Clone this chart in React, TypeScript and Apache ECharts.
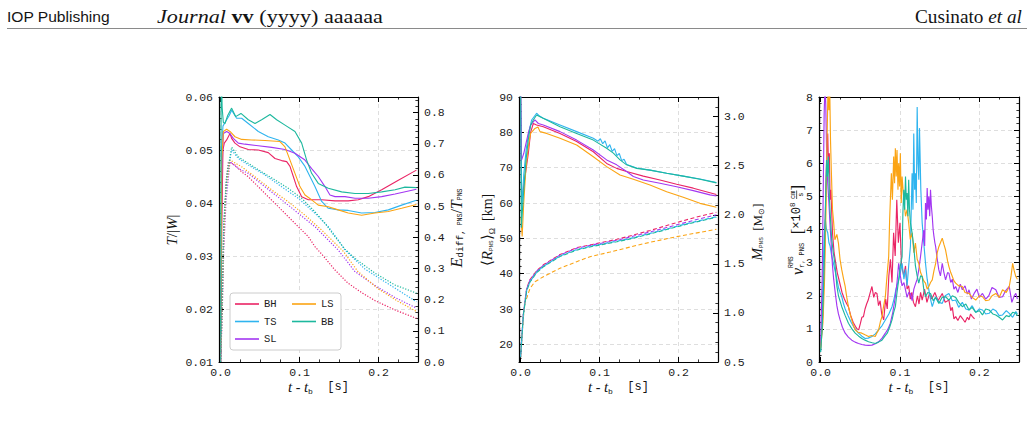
import React, { useEffect, useRef } from 'react';
import * as echarts from 'echarts';

const SERIF = 'Liberation Serif';
const MONO = 'Liberation Mono';
const SANS = 'Liberation Sans';
const INK = '#141414';

const SERIES_NAMES = ['BH', 'TS', 'SL', 'LS', 'BB'];
const SERIES_COLORS: Record<string, string> = { BH: '#ea2465', TS: '#2fb4ef', SL: '#a336f2', LS: '#fba414', BB: '#1db89e' };

// ---------- axes ----------
const X_RANGE = [-0.002, 0.25];
const X_TICKS = [0, 0.1, 0.2];
const X_MINOR = 0.025;

const P1_LEFT_RANGE = [0.01, 0.06];
const P1_LEFT_TICKS = [0.01, 0.02, 0.03, 0.04, 0.05, 0.06];
const P1_RIGHT_RANGE = [0, 0.85];
const P1_RIGHT_TICKS = [0, 0.1, 0.2, 0.3, 0.4, 0.5, 0.6, 0.7, 0.8];
const P2_LEFT_RANGE = [15, 90];
const P2_LEFT_TICKS = [20, 30, 40, 50, 60, 70, 80, 90];
const P2_RIGHT_RANGE = [0.5, 3.2];
const P2_RIGHT_TICKS = [0.5, 1.0, 1.5, 2.0, 2.5, 3.0];
const P3_RANGE = [0, 8];
const P3_TICKS = [0, 1, 2, 3, 4, 5, 6, 7, 8];

// ---------- panel 1: T/|W| (solid, left axis) ----------
const P1_BH = [[0, 0.010], [0.0015, 0.035], [0.003, 0.050], [0.0047, 0.0513], [0.0077, 0.0519], [0.0119, 0.0531], [0.014, 0.0522], [0.0182, 0.0513], [0.0246, 0.0506], [0.0351, 0.0501], [0.0478, 0.05], [0.0604, 0.0495], [0.0689, 0.0484], [0.0773, 0.048], [0.0837, 0.0478], [0.0879, 0.0469], [0.0921, 0.045], [0.0963, 0.0431], [0.1027, 0.0412], [0.1111, 0.0406], [0.128, 0.0406], [0.1449, 0.0404], [0.1617, 0.0404], [0.1744, 0.0406], [0.187, 0.0412], [0.204, 0.0425], [0.2251, 0.0443], [0.248, 0.0462]];
const P1_TS = [[0, 0.010], [0.0012, 0.050], [0.003, 0.0545], [0.0077, 0.0557], [0.011, 0.0565], [0.014, 0.0575], [0.0203, 0.056], [0.0267, 0.056], [0.0351, 0.055], [0.0478, 0.0535], [0.0604, 0.0525], [0.0731, 0.0519], [0.0816, 0.0513], [0.09, 0.05], [0.0984, 0.0487], [0.1069, 0.0469], [0.1132, 0.045], [0.1195, 0.0431], [0.128, 0.0403], [0.1364, 0.039], [0.149, 0.0387], [0.1617, 0.0386], [0.1786, 0.0381], [0.1955, 0.0382], [0.2124, 0.0387], [0.2293, 0.0396], [0.248, 0.0405]];
const P1_SL = [[0, 0.010], [0.0015, 0.045], [0.0035, 0.0531], [0.0077, 0.0535], [0.0119, 0.0531], [0.0161, 0.0522], [0.0225, 0.0513], [0.0309, 0.0511], [0.0478, 0.0508], [0.0647, 0.0505], [0.0816, 0.0501], [0.0942, 0.0494], [0.1069, 0.0481], [0.1153, 0.0465], [0.1237, 0.045], [0.1322, 0.0431], [0.1385, 0.0415], [0.1449, 0.0412], [0.1575, 0.0412], [0.1702, 0.0409], [0.187, 0.0409], [0.204, 0.0412], [0.221, 0.0417], [0.248, 0.0426]];
const P1_LS = [[0, 0.010], [0.0015, 0.048], [0.0035, 0.0535], [0.0077, 0.0539], [0.0119, 0.0535], [0.0182, 0.0525], [0.0267, 0.052], [0.0393, 0.0519], [0.0562, 0.0518], [0.0752, 0.0516], [0.0816, 0.0506], [0.0879, 0.0481], [0.0942, 0.0456], [0.1005, 0.0431], [0.1069, 0.0415], [0.1153, 0.0406], [0.1237, 0.0396], [0.1364, 0.0393], [0.149, 0.0387], [0.1617, 0.0381], [0.1786, 0.0377], [0.1955, 0.0381], [0.2124, 0.0384], [0.2293, 0.039], [0.248, 0.0397]];
const P1_BB = [[0, 0.010], [0.0008, 0.066], [0.002, 0.058], [0.0035, 0.0552], [0.0056, 0.055], [0.009, 0.0565], [0.014, 0.0579], [0.0191, 0.0563], [0.0258, 0.0569], [0.0351, 0.0557], [0.0436, 0.055], [0.052, 0.0557], [0.0626, 0.0567], [0.071, 0.0557], [0.0816, 0.0547], [0.0942, 0.0535], [0.1027, 0.0513], [0.109, 0.0481], [0.1153, 0.0456], [0.1237, 0.0437], [0.1364, 0.0428], [0.1533, 0.0421], [0.1702, 0.0418], [0.187, 0.0418], [0.204, 0.0421], [0.221, 0.0425], [0.2335, 0.043], [0.248, 0.0429]];

// ---------- panel 1: E_diff/T (dotted, right axis) ----------
const P1_BH_E = [[0, 0], [0.002, 0.2], [0.004, 0.42], [0.007, 0.58], [0.0098, 0.642], [0.0182, 0.632], [0.0267, 0.61], [0.0351, 0.594], [0.0478, 0.562], [0.0604, 0.53], [0.0731, 0.498], [0.0857, 0.466], [0.0984, 0.434], [0.1111, 0.402], [0.1195, 0.37], [0.1284, 0.345], [0.1449, 0.295], [0.1613, 0.253], [0.179, 0.222], [0.1955, 0.197], [0.2208, 0.167], [0.248, 0.14]];
const P1_TS_E = [[0, 0], [0.002, 0.17], [0.004, 0.42], [0.007, 0.57], [0.014, 0.68], [0.0224, 0.653], [0.0351, 0.632], [0.0562, 0.6], [0.0774, 0.562], [0.0984, 0.525], [0.1195, 0.477], [0.1364, 0.434], [0.149, 0.391], [0.1575, 0.359], [0.1829, 0.298], [0.2044, 0.263], [0.2246, 0.231], [0.248, 0.193]];
const P1_SL_E = [[0, 0], [0.002, 0.14], [0.004, 0.36], [0.007, 0.52], [0.0119, 0.642], [0.0224, 0.621], [0.0351, 0.605], [0.0562, 0.562], [0.0774, 0.52], [0.0984, 0.477], [0.1195, 0.434], [0.1364, 0.391], [0.149, 0.359], [0.1702, 0.29], [0.1955, 0.245], [0.2208, 0.207], [0.248, 0.173]];
const P1_LS_E = [[0, 0], [0.002, 0.16], [0.004, 0.4], [0.007, 0.56], [0.0119, 0.648], [0.0267, 0.626], [0.0436, 0.594], [0.0647, 0.552], [0.0857, 0.514], [0.1069, 0.471], [0.128, 0.423], [0.1449, 0.381], [0.1554, 0.355], [0.174, 0.29], [0.1993, 0.235], [0.2246, 0.195], [0.248, 0.162]];
const P1_BB_E = [[0, 0], [0.002, 0.2], [0.004, 0.45], [0.008, 0.6], [0.014, 0.689], [0.0224, 0.658], [0.0351, 0.637], [0.052, 0.61], [0.0689, 0.584], [0.0857, 0.557], [0.1027, 0.525], [0.1195, 0.482], [0.1322, 0.445], [0.1449, 0.402], [0.1575, 0.362], [0.1702, 0.332], [0.1955, 0.285], [0.2208, 0.247], [0.248, 0.221]];

// ---------- panel 2: <R_PNS> (solid, left axis) ----------
const P2_BH_R = [[0, 93], [0.0012, 62], [0.003, 63], [0.006, 68], [0.0098, 74], [0.0127, 80], [0.0161, 82.5], [0.0203, 82.1], [0.0288, 81.6], [0.0499, 79.7], [0.071, 77.4], [0.0921, 74.5], [0.109, 71.2], [0.1217, 69.8], [0.1343, 68.9], [0.1554, 67.6], [0.1765, 66.5], [0.1976, 65.3], [0.2187, 64.2], [0.2398, 62.9], [0.248, 62.4]];
const P2_TS_R = [[0, 93], [0.0015, 58], [0.004, 68], [0.007, 75], [0.01, 79.5], [0.014, 83.5], [0.0203, 85.4], [0.024, 84.6], [0.0288, 84], [0.0499, 82.1], [0.071, 80.2], [0.0921, 78.3], [0.098, 77.5], [0.101, 78.2], [0.104, 76.8], [0.107, 77.6], [0.11, 75.6], [0.113, 76.5], [0.116, 74.6], [0.119, 75.4], [0.122, 73.4], [0.125, 74], [0.128, 72], [0.131, 72.4], [0.1343, 70.9], [0.147, 69.9], [0.1639, 69.3], [0.185, 68.4], [0.206, 67.6], [0.2272, 66.8], [0.248, 65.8]];
const P2_SL_R = [[0, 93], [0.001, 72], [0.004, 74], [0.007, 77], [0.01, 80], [0.0127, 82], [0.0182, 83.5], [0.0225, 82.5], [0.0288, 82.1], [0.0499, 80.2], [0.071, 77.8], [0.0921, 75], [0.109, 72.2], [0.1217, 70.8], [0.1343, 68.9], [0.1428, 67.5], [0.1554, 66.5], [0.1765, 65.6], [0.1976, 64.6], [0.2187, 63.5], [0.2398, 62.3], [0.248, 62]];
const P2_LS_R = [[0.0005, 56], [0.002, 50.5], [0.004, 60], [0.0068, 70], [0.0098, 76], [0.0127, 79.7], [0.0182, 81.1], [0.022, 81.5], [0.0246, 80.2], [0.033, 79.7], [0.0499, 78.3], [0.071, 76.4], [0.0921, 73.1], [0.109, 70.3], [0.1259, 67.9], [0.1428, 66.7], [0.1639, 65.1], [0.185, 63.2], [0.206, 61.6], [0.2272, 59.9], [0.248, 58.8]];
const P2_BB_R = [[0, 93], [0.001, 53], [0.0035, 62], [0.0068, 72], [0.0098, 78], [0.0127, 82], [0.0161, 83.5], [0.0203, 84.9], [0.0246, 84.4], [0.033, 83.5], [0.0499, 81.6], [0.071, 79.7], [0.0921, 77.8], [0.109, 75.5], [0.1175, 74.1], [0.1259, 72.2], [0.1343, 70.8], [0.147, 69.8], [0.1639, 69.3], [0.185, 68.4], [0.206, 67.6], [0.2272, 66.7], [0.248, 65.7]];

// ---------- panel 2: M_PNS (dashed, right axis) ----------
const P2_BH_M = [[0, 0.55], [0.0035, 1.0], [0.0077, 1.25], [0.0119, 1.34], [0.0203, 1.43], [0.0288, 1.49], [0.0499, 1.595], [0.071, 1.665], [0.0921, 1.7], [0.1217, 1.75], [0.1343, 1.775], [0.164, 1.84], [0.185, 1.89], [0.206, 1.94], [0.227, 1.985], [0.248, 2.025]];
const P2_TS_M = [[0, 0.55], [0.0035, 0.98], [0.0077, 1.23], [0.0119, 1.32], [0.0203, 1.415], [0.0288, 1.475], [0.0499, 1.58], [0.071, 1.645], [0.0921, 1.685], [0.1217, 1.73], [0.1343, 1.75], [0.164, 1.81], [0.185, 1.855], [0.206, 1.9], [0.227, 1.94], [0.248, 1.98]];
const P2_SL_M = [[0, 0.55], [0.0035, 0.99], [0.0077, 1.245], [0.0119, 1.335], [0.0203, 1.425], [0.0288, 1.485], [0.0499, 1.59], [0.071, 1.66], [0.0921, 1.695], [0.1217, 1.74], [0.1343, 1.765], [0.164, 1.825], [0.185, 1.87], [0.206, 1.915], [0.227, 1.96], [0.248, 2.0]];
const P2_LS_M = [[0, 0.55], [0.0035, 0.95], [0.0056, 1.1], [0.0119, 1.25], [0.0182, 1.318], [0.0288, 1.369], [0.0499, 1.455], [0.071, 1.522], [0.0879, 1.573], [0.1132, 1.62], [0.1554, 1.705], [0.1976, 1.777], [0.248, 1.852]];
const P2_BB_M = [[0, 0.55], [0.0035, 0.975], [0.0077, 1.225], [0.0119, 1.315], [0.0203, 1.41], [0.0288, 1.47], [0.0499, 1.575], [0.071, 1.64], [0.0921, 1.68], [0.1217, 1.725], [0.1343, 1.745], [0.164, 1.805], [0.185, 1.85], [0.206, 1.895], [0.227, 1.935], [0.248, 1.975]];

// ---------- panel 3: v_r RMS ----------
const P3_BH = [[0, 0.4], [0.003, 1.5], [0.005, 3.2], [0.007, 5.6], [0.008, 6.4], [0.009, 6.9], [0.01, 5.8], [0.011, 6.3], [0.012, 4.9], [0.013, 5.2], [0.015, 3.9], [0.017, 3.3], [0.019, 3.0], [0.021, 2.7], [0.024, 2.4], [0.027, 2.1], [0.03, 1.9], [0.033, 1.75], [0.035, 1.67], [0.038, 1.4], [0.041, 1.2], [0.044, 1.07], [0.046, 1.0], [0.048, 0.97], [0.05, 1.15], [0.052, 1.35], [0.054, 1.37], [0.056, 1.6], [0.058, 1.75], [0.06, 1.87], [0.062, 2.05], [0.0647, 2.28], [0.067, 1.95], [0.069, 2.1], [0.071, 2.07], [0.073, 1.7], [0.075, 1.85], [0.077, 1.45], [0.0795, 1.27], [0.082, 1.9], [0.084, 1.6], [0.086, 2.6], [0.088, 3.1], [0.09, 2.4], [0.092, 3.9], [0.094, 3.2], [0.096, 4.9], [0.098, 3.6], [0.1, 4.2], [0.102, 2.9], [0.1048, 2.6], [0.107, 2.9], [0.109, 2.2], [0.111, 2.3], [0.113, 1.9], [0.115, 2.1], [0.117, 1.8], [0.1195, 1.67], [0.122, 2.0], [0.124, 1.75], [0.126, 2.1], [0.128, 1.87], [0.131, 2.2], [0.134, 1.8], [0.137, 2.05], [0.14, 1.9], [0.144, 2.1], [0.148, 1.85], [0.1533, 2.07], [0.157, 1.8], [0.1617, 1.87], [0.164, 1.55], [0.166, 1.65], [0.168, 1.3], [0.1702, 1.37], [0.173, 1.25], [0.176, 1.4], [0.1786, 1.32], [0.182, 1.2], [0.185, 1.35], [0.187, 1.27], [0.189, 1.45], [0.1913, 1.37], [0.194, 1.3]];
const P3_TS = [[0, 0.3], [0.002, 1.2], [0.003, 2.5], [0.0045, 3.8], [0.006, 4.3], [0.0075, 4.0], [0.009, 3.9], [0.0105, 3.6], [0.012, 3.5], [0.014, 3.2], [0.016, 3.0], [0.018, 2.78], [0.0205, 2.5], [0.0225, 2.25], [0.0246, 2.1], [0.0267, 1.97], [0.029, 1.75], [0.031, 1.6], [0.0351, 1.37], [0.0385, 1.2], [0.0415, 1.07], [0.0445, 0.97], [0.0478, 0.87], [0.052, 0.78], [0.0562, 0.71], [0.06, 0.72], [0.0647, 0.77], [0.069, 0.85], [0.0731, 0.97], [0.0775, 1.1], [0.0816, 1.27], [0.086, 1.45], [0.09, 1.67], [0.0925, 1.9], [0.095, 2.2], [0.0984, 2.48], [0.1005, 2.7], [0.1027, 2.98], [0.105, 2.5], [0.107, 2.8], [0.109, 2.3], [0.111, 2.9], [0.1132, 3.5], [0.1153, 5.7], [0.1164, 4.6], [0.1174, 6.9], [0.1185, 5.2], [0.1195, 5.7], [0.1206, 4.8], [0.1217, 7.7], [0.1228, 6.0], [0.1238, 5.5], [0.1246, 7.06], [0.1255, 6.1], [0.1263, 5.2], [0.128, 4.2], [0.13, 3.6], [0.1322, 2.98], [0.1343, 2.5], [0.1364, 2.18], [0.1385, 1.9], [0.1407, 1.67], [0.143, 1.85], [0.145, 1.97], [0.149, 1.8], [0.1533, 1.77], [0.157, 2.0], [0.1617, 2.07], [0.166, 1.85], [0.1702, 1.87], [0.174, 1.65], [0.1786, 1.8], [0.183, 1.6], [0.187, 1.57], [0.191, 1.7], [0.1955, 1.5], [0.2, 1.6], [0.204, 1.57], [0.208, 1.45], [0.2124, 1.47], [0.217, 1.6], [0.2208, 1.55], [0.225, 1.4], [0.2293, 1.42], [0.234, 1.55], [0.2377, 1.47], [0.242, 1.35], [0.246, 1.52], [0.248, 1.45]];
const P3_SL = [[0, 0.5], [0.002, 2.5], [0.0035, 5.5], [0.0045, 7.5], [0.0056, 8.4], [0.0065, 7.8], [0.0077, 6.2], [0.009, 5.4], [0.0105, 4.8], [0.012, 4.1], [0.0135, 3.5], [0.015, 2.9], [0.0165, 2.5], [0.018, 2.18], [0.0205, 1.7], [0.0225, 1.45], [0.0246, 1.27], [0.0275, 1.05], [0.031, 0.87], [0.035, 0.75], [0.0393, 0.66], [0.0435, 0.6], [0.0478, 0.56], [0.052, 0.53], [0.0562, 0.51], [0.0605, 0.5], [0.0647, 0.51], [0.069, 0.55], [0.0731, 0.61], [0.0775, 0.72], [0.0816, 0.87], [0.085, 1.0], [0.0879, 1.17], [0.091, 1.5], [0.0942, 1.97], [0.0963, 2.4], [0.0984, 2.98], [0.1005, 2.6], [0.1027, 2.3], [0.105, 2.4], [0.107, 2.18], [0.109, 1.95], [0.1111, 2.1], [0.1132, 2.07], [0.1153, 1.85], [0.1175, 2.2], [0.1195, 2.35], [0.1217, 2.5], [0.1237, 2.78], [0.126, 3.2], [0.128, 3.6], [0.13, 3.98], [0.1311, 3.5], [0.1322, 4.8], [0.1333, 4.3], [0.1343, 5.25], [0.1353, 4.6], [0.1364, 5.0], [0.1375, 4.4], [0.1385, 5.2], [0.1396, 4.7], [0.1407, 4.4], [0.1418, 4.0], [0.1428, 3.8], [0.144, 3.6], [0.145, 3.48], [0.147, 3.1], [0.149, 2.78], [0.151, 2.6], [0.1533, 2.98], [0.1554, 2.7], [0.1575, 2.48], [0.16, 2.7], [0.1617, 2.68], [0.164, 2.4], [0.166, 2.5], [0.168, 2.2], [0.1702, 2.28], [0.173, 2.1], [0.176, 2.35], [0.1786, 2.18], [0.182, 2.3], [0.185, 2.05], [0.187, 2.18], [0.19, 1.9], [0.1935, 2.07], [0.197, 2.2], [0.2, 1.95], [0.204, 2.07], [0.208, 1.9], [0.212, 2.0], [0.216, 2.25], [0.2208, 2.18], [0.225, 1.95], [0.2293, 1.97], [0.233, 2.15], [0.2377, 2.28], [0.241, 1.8], [0.244, 2.0], [0.246, 2.07], [0.248, 1.9]];
const P3_LS = [[0, 0.4], [0.003, 1.2], [0.005, 2.5], [0.007, 4.8], [0.008, 6.5], [0.0095, 8.5], [0.0105, 7.6], [0.0115, 8.3], [0.0125, 6.7], [0.0135, 5.8], [0.015, 4.6], [0.0165, 4.2], [0.018, 3.69], [0.0205, 3.85], [0.0225, 3.59], [0.0245, 3.1], [0.0267, 2.78], [0.029, 2.5], [0.031, 2.28], [0.033, 1.95], [0.0351, 1.67], [0.0372, 1.45], [0.0393, 1.27], [0.0415, 1.1], [0.0436, 0.97], [0.047, 0.9], [0.052, 0.87], [0.056, 0.82], [0.0604, 0.77], [0.064, 0.8], [0.0689, 0.77], [0.071, 0.88], [0.0731, 0.97], [0.0752, 1.2], [0.0773, 1.37], [0.0795, 1.7], [0.0816, 1.97], [0.0837, 2.6], [0.0858, 3.18], [0.087, 4.3], [0.0892, 5.7], [0.0905, 4.9], [0.0921, 6.2], [0.0932, 5.4], [0.0942, 6.45], [0.0953, 5.6], [0.0963, 6.4], [0.0975, 5.2], [0.0984, 6.0], [0.0995, 5.3], [0.1005, 6.3], [0.1016, 4.8], [0.1027, 5.6], [0.1048, 4.9], [0.107, 4.4], [0.109, 4.6], [0.111, 4.2], [0.113, 3.7], [0.1153, 3.9], [0.1175, 3.3], [0.1195, 3.59], [0.1217, 3.1], [0.1237, 2.98], [0.126, 2.7], [0.128, 2.58], [0.13, 2.45], [0.1322, 2.38], [0.1343, 2.2], [0.1364, 2.28], [0.1385, 2.4], [0.1407, 2.48], [0.1428, 2.75], [0.145, 2.98], [0.147, 3.3], [0.149, 3.48], [0.151, 3.6], [0.1533, 3.74], [0.1554, 3.55], [0.1575, 3.38], [0.16, 3.05], [0.1617, 2.88], [0.164, 2.7], [0.166, 2.58], [0.168, 2.45], [0.1702, 2.38], [0.174, 2.3], [0.1786, 2.28], [0.182, 2.1], [0.187, 2.07], [0.191, 1.95], [0.1955, 1.87], [0.2, 2.0], [0.204, 1.97], [0.208, 1.85], [0.2124, 1.87], [0.216, 2.0], [0.2208, 2.07], [0.225, 1.95], [0.2293, 2.18], [0.234, 2.1], [0.2377, 2.28], [0.24, 2.6], [0.242, 2.98], [0.244, 2.75], [0.246, 2.58], [0.248, 2.5]];
const P3_BB = [[0, 0.3], [0.002, 1.0], [0.004, 2.5], [0.006, 4.6], [0.0075, 6.1], [0.0085, 5.6], [0.0098, 6.2], [0.011, 5.0], [0.0125, 4.3], [0.014, 3.7], [0.016, 3.3], [0.018, 2.98], [0.0205, 2.3], [0.0225, 2.0], [0.0267, 1.67], [0.031, 1.4], [0.0351, 1.17], [0.0395, 1.0], [0.0436, 0.87], [0.048, 0.78], [0.052, 0.71], [0.056, 0.66], [0.0604, 0.61], [0.065, 0.58], [0.0689, 0.56], [0.073, 0.6], [0.0773, 0.66], [0.081, 0.78], [0.084, 0.87], [0.087, 1.05], [0.09, 1.27], [0.0921, 1.5], [0.0942, 1.67], [0.0963, 2.1], [0.0984, 2.48], [0.1005, 2.9], [0.1027, 3.18], [0.1037, 4.5], [0.1048, 5.2], [0.1059, 4.6], [0.107, 5.6], [0.108, 4.9], [0.109, 5.1], [0.11, 4.4], [0.111, 5.5], [0.112, 4.6], [0.1132, 4.2], [0.1153, 3.9], [0.1174, 3.48], [0.1195, 2.9], [0.1217, 2.6], [0.1237, 2.38], [0.126, 2.6], [0.128, 2.58], [0.13, 2.2], [0.1322, 1.97], [0.135, 2.1], [0.1385, 2.07], [0.142, 1.85], [0.145, 1.95], [0.149, 1.77], [0.153, 1.95], [0.1575, 1.97], [0.1617, 1.87], [0.166, 2.0], [0.1702, 1.95], [0.174, 1.8], [0.1786, 1.67], [0.183, 1.75], [0.187, 1.57], [0.191, 1.65], [0.1955, 1.5], [0.2, 1.55], [0.204, 1.42], [0.208, 1.6], [0.2124, 1.57], [0.217, 1.45], [0.2208, 1.42], [0.225, 1.35], [0.2293, 1.27], [0.234, 1.4], [0.2377, 1.37], [0.242, 1.5], [0.246, 1.47], [0.248, 1.4]];

// ---------- layout ----------
const GRIDS = [
  { left: 219, top: 97, width: 199, height: 265 },
  { left: 519, top: 97, width: 199, height: 265 },
  { left: 819, top: 97, width: 200, height: 265 },
];

const LABEL = { color: '#1c1c1c', fontFamily: MONO, fontSize: 11.5 };
const GRIDLINE = { color: '#d6d6d6', width: 0.8, type: [4, 3] };
const SPINE = { color: '#000', width: 1.2 };

function stepsIn(range: number[], step: number) {
  const out: number[] = [];
  const k0 = Math.ceil(range[0] / step - 1e-9);
  const k1 = Math.floor(range[1] / step + 1e-9);
  for (let k = k0; k <= k1; k++) out.push(+(k * step).toFixed(6));
  return out;
}

function axisPair(dim: 'x' | 'y', g: number, position: string, range: number[], labels: number[] | null, ticks: number[], minorStep: number, fmt: (v: number) => string, split: boolean) {
  const base: any = { type: 'value', gridIndex: g, position, min: range[0], max: range[1], axisPointer: { show: false }, minorTick: { show: false }, minorSplitLine: { show: false } };
  const major = {
    ...base,
    axisLine: { show: true, onZero: false, lineStyle: SPINE },
    axisTick: { show: true, inside: true, length: 5, lineStyle: { color: '#000', width: 1 }, customValues: ticks },
    axisLabel: labels
      ? { show: true, customValues: labels, formatter: (v: number) => fmt(v), margin: dim === 'x' ? 4 : 6, showMinLabel: true, showMaxLabel: true, ...LABEL }
      : { show: false },
    splitLine: { show: split, lineStyle: GRIDLINE },
  };
  const minor = {
    ...base,
    axisLine: { show: false, onZero: false },
    axisTick: { show: true, inside: true, length: 2.6, lineStyle: { color: '#000', width: 0.8 }, customValues: stepsIn(range, minorStep) },
    axisLabel: { show: false },
    splitLine: { show: false },
  };
  return [major, minor];
}

const f1 = (v: number) => v.toFixed(1);
const f2 = (v: number) => v.toFixed(2);
const f0 = (v: number) => String(Math.round(v));

function buildXAxes() {
  const out: any[] = [];
  for (let g = 0; g < 3; g++) {
    out.push(...axisPair('x', g, 'bottom', X_RANGE, X_TICKS, X_TICKS, X_MINOR, f1, true));
    out.push(...axisPair('x', g, 'top', X_RANGE, null, X_TICKS, X_MINOR, f1, false));
  }
  return out;
}

function inner(ticks: number[], range: number[]) {
  return ticks.filter((t) => t > range[0] + 1e-9 && t < range[1] - 1e-9);
}

function buildYAxes() {
  return [
    ...axisPair('y', 0, 'left', P1_LEFT_RANGE, P1_LEFT_TICKS, inner(P1_LEFT_TICKS, P1_LEFT_RANGE), 0.002, f2, true),
    ...axisPair('y', 0, 'right', P1_RIGHT_RANGE, P1_RIGHT_TICKS, inner(P1_RIGHT_TICKS, P1_RIGHT_RANGE), 0.02, f1, false),
    ...axisPair('y', 1, 'left', P2_LEFT_RANGE, P2_LEFT_TICKS, inner(P2_LEFT_TICKS, P2_LEFT_RANGE), 2, f0, true),
    ...axisPair('y', 1, 'right', P2_RIGHT_RANGE, P2_RIGHT_TICKS, inner(P2_RIGHT_TICKS, P2_RIGHT_RANGE), 0.1, f1, false),
    ...axisPair('y', 2, 'left', P3_RANGE, P3_TICKS, inner(P3_TICKS, P3_RANGE), 0.2, f0, true),
    ...axisPair('y', 2, 'right', P3_RANGE, null, inner(P3_TICKS, P3_RANGE), 0.2, f0, false),
  ];
}

function line(name: string, data: number[][], g: number, right: boolean, type: any, width: number, dashOffset = 0) {
  return {
    type: 'line', name, data,
    xAxisIndex: g * 4, yAxisIndex: g * 4 + (right ? 2 : 0),
    showSymbol: false, symbol: 'none', clip: true, silent: true,
    lineStyle: { color: SERIES_COLORS[name], width, type, dashOffset },
    itemStyle: { color: SERIES_COLORS[name] },
    emphasis: { disabled: true },
  };
}

// ---------- text layout helpers ----------
type Run = { t: string; f: string; s: number; it?: boolean; bd?: boolean; dy?: number; over?: Run; bar?: boolean; center?: boolean };
let measureCtx: any = null;
function fontOf(r: Run) { return `${r.it ? 'italic ' : ''}${r.bd ? 'bold ' : ''}${r.s}px "${r.f}"`; }
function textWidth(r: Run) {
  if (!measureCtx) measureCtx = document.createElement('canvas').getContext('2d');
  measureCtx.font = fontOf(r);
  return measureCtx.measureText(r.t).width;
}
function runWidth(r: Run) { return r.over ? Math.max(textWidth(r), textWidth(r.over)) : textWidth(r); }
function textEl(r: Run, x: number) {
  return {
    type: 'text', x, y: r.dy || 0, silent: true,
    style: { text: r.t, fontFamily: r.f, fontSize: r.s, fontStyle: r.it ? 'italic' : 'normal', fontWeight: r.bd ? 'bold' : 'normal', fill: INK, align: 'left', verticalAlign: 'middle' },
  };
}
function totalWidth(runs: Run[]) { return runs.reduce((a, r) => a + runWidth(r), 0); }
function layoutRuns(runs: Run[], anchor: string) {
  const total = totalWidth(runs);
  let x = anchor === 'center' ? -total / 2 : anchor === 'right' ? -total : 0;
  const children: any[] = [];
  for (const r of runs) {
    const w = runWidth(r);
    if (r.over) {
      const w1 = textWidth(r), w2 = textWidth(r.over);
      children.push(textEl(r, r.center ? x + (w - w1) / 2 : x));
      children.push(textEl(r.over, r.center ? x + (w - w2) / 2 : x));
      if (r.bar) children.push({ type: 'rect', silent: true, shape: { x, y: -0.6, width: w, height: 0.7 }, style: { fill: INK } });
    } else {
      children.push(textEl(r, x));
    }
    x += w;
  }
  return children;
}
function textGroup(runs: Run[], x: number, y: number, rotate: boolean, anchor = 'center', fitWidth = 0) {
  const sx = fitWidth ? fitWidth / totalWidth(runs) : 1;
  return { type: 'group', x, y, scaleX: sx, rotation: rotate ? Math.PI / 2 : 0, children: layoutRuns(runs, anchor) };
}

const X_TITLE: Run[] = [
  { t: 't', f: SERIF, s: 15, it: true },
  { t: ' - ', f: SERIF, s: 14 },
  { t: 't', f: SERIF, s: 15, it: true },
  { t: 'b', f: MONO, s: 8, dy: 4 },
  { t: '  [s]', f: MONO, s: 12 },
];
const P1_LEFT_TITLE: Run[] = [
  { t: 'T', f: SERIF, s: 15, it: true },
  { t: '/|', f: SERIF, s: 15 },
  { t: 'W', f: SERIF, s: 15, it: true },
  { t: '|', f: SERIF, s: 15 },
];
const P1_RIGHT_TITLE: Run[] = [
  { t: 'E', f: SERIF, s: 16, it: true },
  { t: 'diff,', f: MONO, s: 9.5, dy: 4 },
  { t: ' PNS', f: MONO, s: 6.5, dy: 4.5 },
  { t: '/', f: SERIF, s: 16 },
  { t: 'T', f: SERIF, s: 16, it: true },
  { t: 'PNS', f: MONO, s: 6.5, dy: 4.5 },
];
const P2_LEFT_TITLE: Run[] = [
  { t: '\u27E8', f: SERIF, s: 15 },
  { t: 'R', f: SERIF, s: 15, it: true },
  { t: 'PNS', f: MONO, s: 6, dy: 4.5 },
  { t: '\u27E9', f: SERIF, s: 15 },
  { t: '\u03A9', f: SERIF, s: 8.5, dy: 5 },
  { t: '  [km]', f: SERIF, s: 14 },
];
const P2_RIGHT_TITLE: Run[] = [
  { t: 'M', f: SERIF, s: 15, it: true },
  { t: 'PNS', f: MONO, s: 6, dy: 4.5 },
  { t: '  [M', f: SERIF, s: 13 },
  { t: '\u2299', f: SERIF, s: 8, dy: 4 },
  { t: ']', f: SERIF, s: 13 },
];
const P3_LEFT_TITLE: Run[] = [
  { t: 'v', f: SERIF, s: 16, it: true },
  { t: 'r, PNS', f: MONO, s: 7, dy: 4.5, over: { t: 'RMS', f: MONO, s: 6.5, dy: -5.5 } },
  { t: '  [', f: SERIF, s: 17 },
  { t: '\u00D710', f: MONO, s: 12 },
  { t: '8', f: MONO, s: 7.5, dy: -4.5 },
  { t: ' ', f: MONO, s: 6 },
  { t: 's', f: MONO, s: 7, dy: 4.2, over: { t: 'cm', f: MONO, s: 7, dy: -4.2 }, bar: true, center: true },
  { t: ']', f: SERIF, s: 17 },
];
const HEADER_LEFT: Run[] = [{ t: 'IOP Publishing', f: SANS, s: 15.5 }];
const HEADER_MID: Run[] = [
  { t: 'Journal', f: SERIF, s: 18, it: true },
  { t: ' vv', f: SERIF, s: 18, bd: true },
  { t: ' (yyyy) aaaaaa', f: SERIF, s: 18 },
];
const HEADER_RIGHT: Run[] = [
  { t: 'Cusinato ', f: SERIF, s: 18 },
  { t: 'et al', f: SERIF, s: 18, it: true },
];

export default function App() {
  const ref = useRef<HTMLDivElement>(null);
  useEffect(() => {
    if (!ref.current) return;
    const chart = echarts.init(ref.current, null, { renderer: 'svg' });
    const DOT = [1.2, 1.6];
    const DASH = [4, 2.5];
    const series = [
      line('BH', P1_BH, 0, false, 'solid', 1.1),
      line('TS', P1_TS, 0, false, 'solid', 1.1),
      line('SL', P1_SL, 0, false, 'solid', 1.1),
      line('LS', P1_LS, 0, false, 'solid', 1.1),
      line('BB', P1_BB, 0, false, 'solid', 1.1),
      line('BH', P1_BH_E, 0, true, DOT, 1.2),
      line('TS', P1_TS_E, 0, true, DOT, 1.2),
      line('SL', P1_SL_E, 0, true, DOT, 1.2),
      line('LS', P1_LS_E, 0, true, DOT, 1.2),
      line('BB', P1_BB_E, 0, true, DOT, 1.2),
      line('BH', P2_BH_R, 1, false, 'solid', 1.1),
      line('TS', P2_TS_R, 1, false, 'solid', 1.1),
      line('SL', P2_SL_R, 1, false, 'solid', 1.1),
      line('LS', P2_LS_R, 1, false, 'solid', 1.1),
      line('BB', P2_BB_R, 1, false, 'solid', 1.1),
      line('BH', P2_BH_M, 1, true, DASH, 1.1),
      line('SL', P2_SL_M, 1, true, DASH, 1.1, 3),
      line('LS', P2_LS_M, 1, true, DASH, 1.1),
      line('TS', P2_TS_M, 1, true, DASH, 1.2),
      line('BB', P2_BB_M, 1, true, DASH, 1.2, 3.2),
      line('BH', P3_BH, 2, false, 'solid', 1.15),
      line('TS', P3_TS, 2, false, 'solid', 1.15),
      line('SL', P3_SL, 2, false, 'solid', 1.15),
      line('LS', P3_LS, 2, false, 'solid', 1.15),
      line('BB', P3_BB, 2, false, 'solid', 1.15),
    ];
    const legendFont = { fontFamily: MONO, fontSize: 10.5, color: '#1c1c1c', lineHeight: 12 };
    const legendData = SERIES_NAMES.map((n, i) => ({
      name: n,
      textStyle: { ...legendFont, width: i < 3 ? 22.5 : 14, rich: { m: { ...legendFont } } },
    }));
    chart.setOption({
      animation: false,
      backgroundColor: '#ffffff',
      grid: GRIDS.map((g) => ({ ...g, containLabel: false, outerBoundsMode: 'none' })),
      xAxis: buildXAxes(),
      yAxis: buildYAxes(),
      legend: {
        show: true, data: legendData, orient: 'vertical', left: 230, top: 293, height: 58,
        itemWidth: 24, itemHeight: 1.6, itemGap: 5.5, icon: 'rect', selectedMode: false,
        formatter: '{m|{name}}',
        textStyle: { ...legendFont, rich: { m: { ...legendFont } } },
        backgroundColor: '#ffffff', borderColor: '#cccccc', borderWidth: 1, borderRadius: 3,
        padding: [5, 6, 5, 5],
      },
      graphic: {
        elements: [
          textGroup(HEADER_LEFT, 7, 17, false, 'left', 103),
          textGroup(HEADER_MID, 157, 17, false, 'left', 226),
          textGroup(HEADER_RIGHT, 1022, 17, false, 'right', 107),
          { type: 'line', silent: true, shape: { x1: 7, y1: 28.5, x2: 1027, y2: 28.5 }, style: { stroke: '#8a8a8a', lineWidth: 1 } },
          textGroup(X_TITLE, 318.5, 387, false),
          textGroup(X_TITLE, 618.5, 387, false),
          textGroup(X_TITLE, 919, 387, false),
          textGroup(P1_LEFT_TITLE, 172, 230, true),
          textGroup(P1_RIGHT_TITLE, 456, 228, true),
          textGroup(P2_LEFT_TITLE, 487, 230, true),
          textGroup(P2_RIGHT_TITLE, 757, 232, true),
          textGroup(P3_LEFT_TITLE, 797, 230, true),
        ],
      },
      series,
    });
    return () => chart.dispose();
  }, []);
  return <div ref={ref} style={{ position: 'fixed', left: 0, top: 0, width: 1034, height: 426, background: '#fff' }} />;
}
